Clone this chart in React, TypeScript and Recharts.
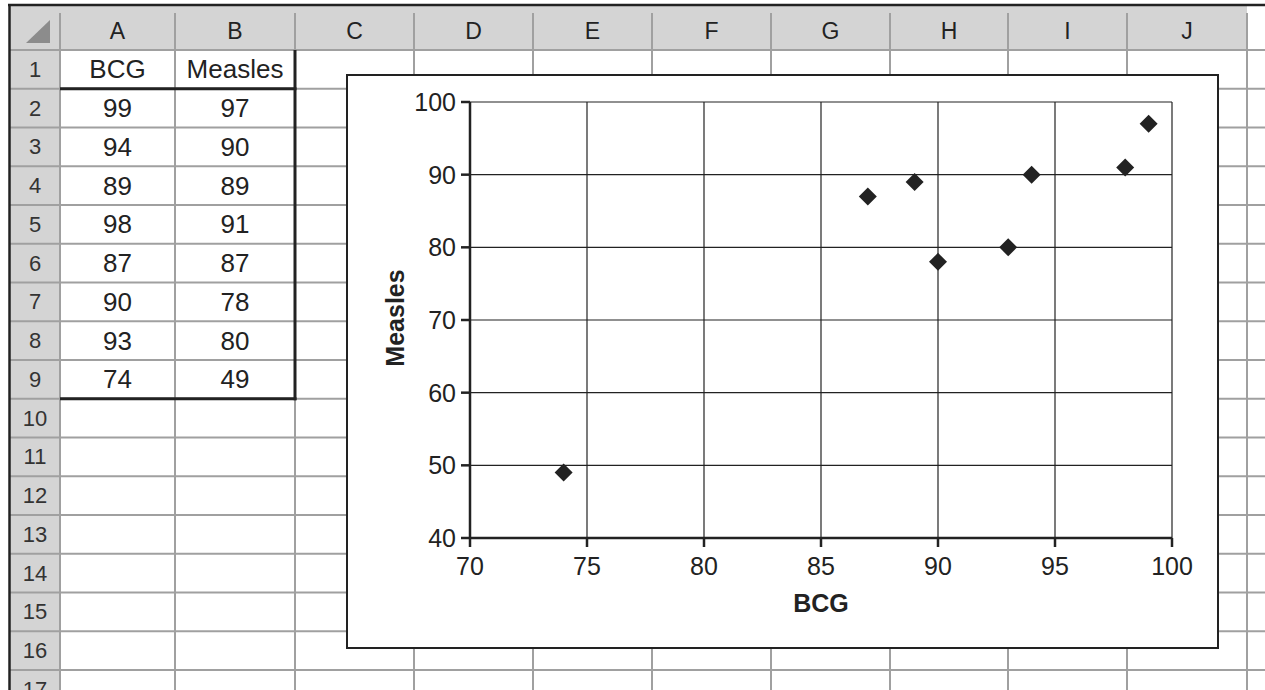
import React from "react";
import { ScatterChart, Scatter, XAxis, YAxis, CartesianGrid } from "recharts";

// sheet data (A2:B9)
const bcg = [99, 94, 89, 98, 87, 90, 93, 74];
const measles = [97, 90, 89, 91, 87, 78, 80, 49];
const headers = ["BCG", "Measles"];

const columnLetters = ["A", "B", "C", "D", "E", "F", "G", "H", "I", "J"];
const xTicks = [70, 75, 80, 85, 90, 95, 100];
const yTicks = [40, 50, 60, 70, 80, 90, 100];

const points = bcg.map((b, i) => ({ x: b, y: measles[i] }));

const FONT = '"Liberation Sans", Arial, Helvetica, sans-serif';
const INK = "#222";
const GRID = "#a0a0a0";
const HEAD_BG = "#d4d4d4";

// sheet geometry
const colEdges = [60, 175, 295, 414, 533, 652, 771, 890, 1008, 1127, 1247];
const headTop = 5;
const headBottom = 50;
const rowH = 38.75;
const rowEdges = Array.from({ length: 18 }, (_, i) => headBottom + i * rowH);

function Diamond(props: any) {
  const { cx, cy } = props;
  if (cx == null || cy == null) return null;
  const r = 9;
  return (
    <path
      d={`M${cx},${cy - r}L${cx + r},${cy}L${cx},${cy + r}L${cx - r},${cy}Z`}
      fill={INK}
    />
  );
}

function Sheet() {
  const cellText = (col: number, row: number, txt: string | number) => (
    <text
      key={`c${col}-${row}`}
      x={(colEdges[col] + colEdges[col + 1]) / 2}
      y={rowEdges[row] + rowH / 2}
      textAnchor="middle"
      dominantBaseline="central"
      fontSize={26}
      fill={INK}
    >
      {txt}
    </text>
  );
  return (
    <svg width={1265} height={690} style={{ position: "absolute", left: 0, top: 0 }} fontFamily={FONT}>
      <rect x={0} y={0} width={1265} height={690} fill="#fff" />
      <rect x={10} y={headTop} width={colEdges[colEdges.length - 1] - 10} height={headBottom - headTop} fill={HEAD_BG} />
      <rect x={10} y={headBottom} width={colEdges[0] - 10} height={690 - headBottom} fill={HEAD_BG} />
      {rowEdges.map((y, i) => (
        <line key={`h${i}`} x1={10} x2={1265} y1={y} y2={y} stroke={GRID} strokeWidth={2} />
      ))}
      {colEdges.map((x, i) => (
        <line key={`v${i}`} x1={x} x2={x} y1={13} y2={690} stroke={GRID} strokeWidth={2} />
      ))}
      <line x1={8} x2={1265} y1={5} y2={5} stroke={INK} strokeWidth={2.5} />
      <line x1={9.5} x2={9.5} y1={4} y2={690} stroke={INK} strokeWidth={2.5} />
      <polygon points="26,43 50,43 50,20" fill="#8c8c8c" />
      {columnLetters.map((c, i) => (
        <text
          key={c}
          x={(colEdges[i] + colEdges[i + 1]) / 2}
          y={(headTop + headBottom) / 2 + 3}
          textAnchor="middle"
          dominantBaseline="central"
          fontSize={23}
          fill={INK}
        >
          {c}
        </text>
      ))}
      {rowEdges.slice(0, 17).map((y, i) => (
        <text
          key={`r${i}`}
          x={35}
          y={y + rowH / 2}
          textAnchor="middle"
          dominantBaseline="central"
          fontSize={22}
          fill="#333"
        >
          {i + 1}
        </text>
      ))}
      {headers.map((h, i) => cellText(i, 0, h))}
      {bcg.map((v, r) => cellText(0, r + 1, v))}
      {measles.map((v, r) => cellText(1, r + 1, v))}
      {/* thick border round the data block */}
      <line x1={colEdges[0]} x2={colEdges[2] + 1.5} y1={rowEdges[1]} y2={rowEdges[1]} stroke={INK} strokeWidth={3} />
      <line x1={colEdges[0]} x2={colEdges[2] + 1.5} y1={rowEdges[9]} y2={rowEdges[9]} stroke={INK} strokeWidth={3} />
      <line x1={colEdges[2]} x2={colEdges[2]} y1={rowEdges[0]} y2={rowEdges[9] + 1.5} stroke={INK} strokeWidth={3} />
    </svg>
  );
}

const renderXTitle = (p: any) => {
  const vb = p.viewBox || { x: 122, y: 462, width: 702, height: 109 };
  return (
    <text
      x={vb.x + vb.width / 2}
      y={vb.y + 74}
      textAnchor="middle"
      fontSize={25}
      fontWeight="bold"
      fontFamily={FONT}
      fill={INK}
    >
      BCG
    </text>
  );
};

const renderYTitle = (p: any) => {
  const vb = p.viewBox || { x: 0, y: 26, width: 122, height: 436 };
  const cx = vb.x + 47;
  const cy = vb.y + vb.height / 2 - 2;
  return (
    <text
      x={cx}
      y={cy}
      transform={`rotate(-90, ${cx}, ${cy})`}
      textAnchor="middle"
      dominantBaseline="central"
      fontSize={25}
      fontWeight="bold"
      fontFamily={FONT}
      fill={INK}
    >
      Measles
    </text>
  );
};

export default function App() {
  const tick = { fill: INK, fontSize: 25, fontFamily: FONT };
  return (
    <div
      style={{
        position: "absolute",
        left: 0,
        top: 0,
        width: 1265,
        height: 690,
        overflow: "hidden",
        background: "#fff",
        fontFamily: FONT,
      }}
    >
      <Sheet />
      <div
        style={{
          position: "absolute",
          left: 346,
          top: 74,
          width: 873,
          height: 575,
          boxSizing: "border-box",
          border: `2px solid ${INK}`,
          background: "#fff",
        }}
      >
        <ScatterChart width={869} height={571} margin={{ top: 26, right: 45, bottom: 0, left: 0 }}>
          <CartesianGrid stroke={INK} strokeWidth={1.2} />
          <XAxis
            type="number"
            dataKey="x"
            domain={[70, 100]}
            ticks={xTicks}
            interval={0}
            height={109}
            tick={tick}
            tickSize={9}
            tickMargin={10}
            axisLine={{ stroke: INK, strokeWidth: 2.5 }}
            tickLine={{ stroke: INK, strokeWidth: 2.5 }}
            label={{ content: renderXTitle }}
          />
          <YAxis
            type="number"
            dataKey="y"
            domain={[40, 100]}
            ticks={yTicks}
            interval={0}
            width={122}
            tick={tick}
            tickSize={9}
            tickMargin={5}
            axisLine={{ stroke: INK, strokeWidth: 2.5 }}
            tickLine={{ stroke: INK, strokeWidth: 2.5 }}
            label={{ content: renderYTitle }}
          />
          <Scatter data={points} shape={Diamond} isAnimationActive={false} />
        </ScatterChart>
      </div>
    </div>
  );
}
